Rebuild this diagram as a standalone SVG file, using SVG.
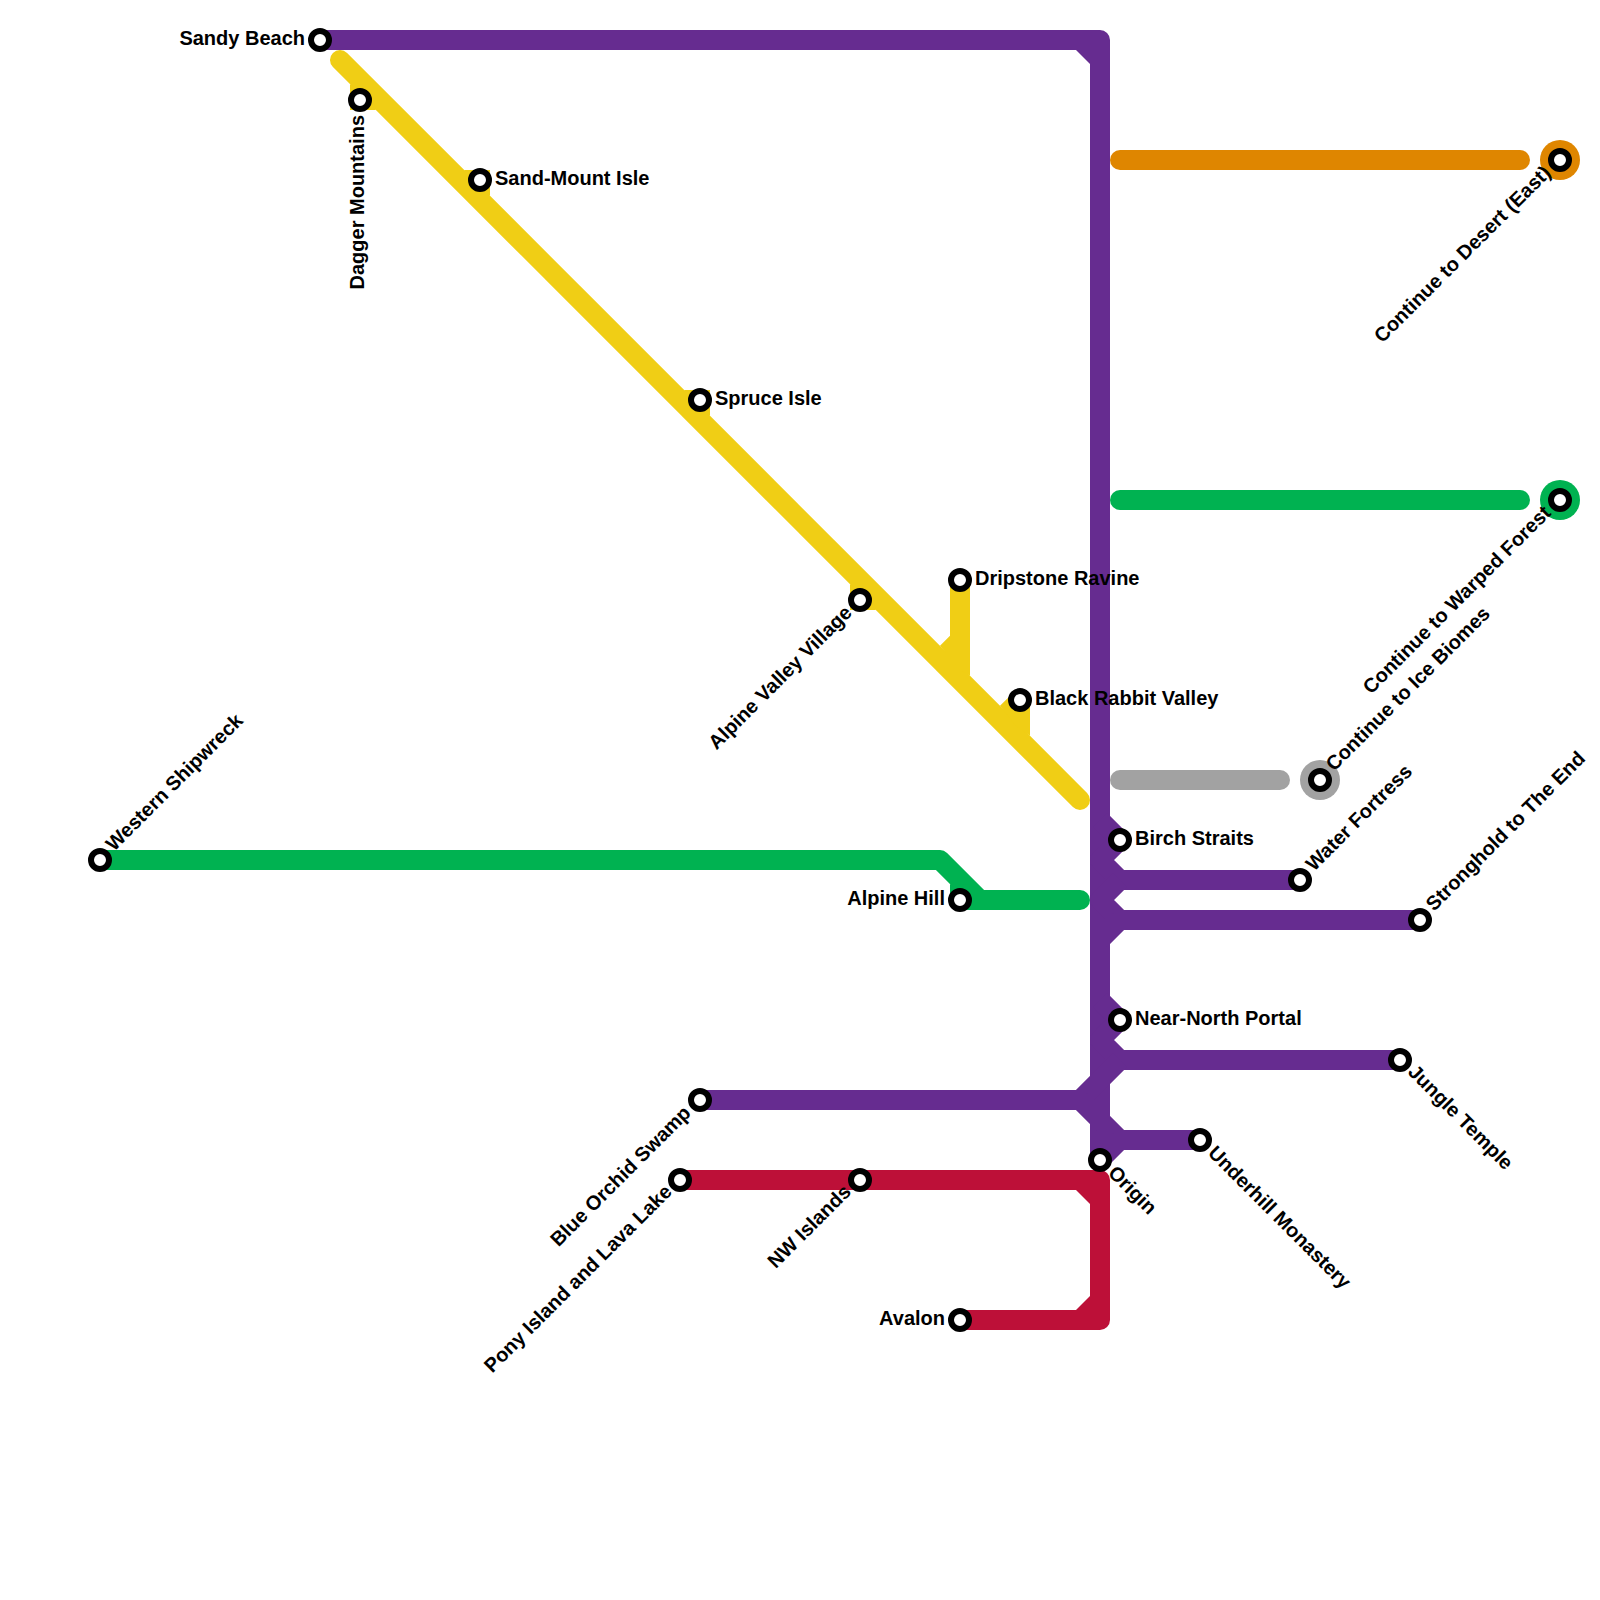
<svg xmlns="http://www.w3.org/2000/svg" width="1600" height="1600" viewBox="0 0 1600 1600">
<style>
.l{fill:none;stroke-width:20;stroke-linejoin:round}
.c{stroke-linecap:round}
.p{stroke:#662c90}.y{stroke:#f0ce15}.g{stroke:#00b251}.r{stroke:#bd1038}.o{stroke:#df8600}.a{stroke:#a2a2a2}
.fp{fill:#662c90}.fy{fill:#f0ce15}.fg{fill:#00b251}.fr{fill:#bd1038}
.s{fill:#fff;stroke:#000;stroke-width:6}
text{font-family:"Liberation Sans",Arial,sans-serif;font-weight:700;font-size:20px;fill:#000}
.e{text-anchor:end}
</style>
<rect width="1600" height="1600" fill="#fff"/>
<g id="connectors">
<path class="l c y" d="M340 60L1080 800"/>
<polygon class="fy" points="350,84.14 350,110 375.86,110 370,90"/>
<polygon class="fy" points="464.14,170 490,170 490,195.86 470,190"/>
<polygon class="fy" points="684.14,390 710,390 710,415.86 690,410"/>
<polygon class="fy" points="850,584.14 850,610 875.86,610 870,590"/>
<polygon class="fy" points="950,580 970,580 970,675.86 960,670 940,645.86 950,635.86"/>
<polygon class="fy" points="1000,705.86 1012,694 1020,700 1030,700 1030,735.86 1015,725"/>
<path class="l g" d="M100 860H940L980 900H1080"/>
<path class="l c g" d="M1060 900H1080"/>
<path class="l g" d="M960 900H1000"/>
<polygon class="fg" points="950,884.14 950,900 965,905 970,885"/>
<path class="l c o" d="M1120 160H1520"/>
<path class="l c g" d="M1120 500H1520"/>
<path class="l c a" d="M1120 780H1280"/>
<path class="l p" d="M320 40H1100V1160"/>
<polygon class="fp" points="1076,50 1090,50 1090,64"/>
<path class="l p" d="M1100 820L1120 840L1100 860L1120 880H1300"/>
<path class="l p" d="M1120 880L1100 900L1120 920H1420"/>
<path class="l p" d="M1120 920L1100 940"/>
<path class="l p" d="M1100 1000L1120 1020L1100 1040L1120 1060H1400"/>
<path class="l p" d="M1120 1060L1100 1080L1080 1100H700"/>
<path class="l p" d="M1080 1100L1100 1120L1120 1140H1200"/>
<path class="l p" d="M1120 1140L1100 1160"/>
<path class="l r" d="M680 1180H1100V1320H960"/>
<polygon class="fr" points="1076,1190 1090,1190 1090,1204"/>
<polygon class="fr" points="1076,1310 1090,1296 1090,1310"/>
</g>
<g id="sandy-beach"><circle class="s" cx="320" cy="40" r="9"/><text class="e" x="305" y="45">Sandy Beach</text></g>
<g id="dagger-mountains"><circle class="s" cx="360" cy="100" r="9"/><text class="e" transform="translate(364 115) rotate(-90)">Dagger Mountains</text></g>
<g id="sand-mount-isle"><circle class="s" cx="480" cy="180" r="9"/><text x="495" y="185">Sand-Mount Isle</text></g>
<g id="spruce-isle"><circle class="s" cx="700" cy="400" r="9"/><text x="715" y="405">Spruce Isle</text></g>
<g id="alpine-valley-village"><circle class="s" cx="860" cy="600" r="9"/><text class="e" transform="translate(853 614) rotate(-45)">Alpine Valley Village</text></g>
<g id="dripstone-ravine"><circle class="s" cx="960" cy="580" r="9"/><text x="975" y="585">Dripstone Ravine</text></g>
<g id="black-rabbit-valley"><circle class="s" cx="1020" cy="700" r="9"/><text x="1035" y="705">Black Rabbit Valley</text></g>
<g id="western-shipwreck"><circle class="s" cx="100" cy="860" r="9"/><text transform="translate(114 852) rotate(-45)">Western Shipwreck</text></g>
<g id="alpine-hill"><circle class="s" cx="960" cy="900" r="9"/><text class="e" x="945" y="905">Alpine Hill</text></g>
<g id="birch-straits"><circle class="s" cx="1120" cy="840" r="9"/><text x="1135" y="845">Birch Straits</text></g>
<g id="near-north-portal"><circle class="s" cx="1120" cy="1020" r="9"/><text x="1135" y="1025">Near-North Portal</text></g>
<g id="water-fortress"><circle class="s" cx="1300" cy="880" r="9"/><text transform="translate(1314 872) rotate(-45)">Water Fortress</text></g>
<g id="stronghold"><circle class="s" cx="1420" cy="920" r="9"/><text transform="translate(1434 912) rotate(-45)">Stronghold to The End</text></g>
<g id="ice-biomes"><circle cx="1320" cy="780" r="20" fill="#a2a2a2"/><circle class="s" cx="1320" cy="780" r="9"/><text transform="translate(1334 772) rotate(-45)">Continue to Ice Biomes</text></g>
<g id="desert-east"><circle cx="1560" cy="160" r="20" fill="#df8600"/><circle class="s" cx="1560" cy="160" r="9"/><text class="e" transform="translate(1552 174) rotate(-45)">Continue to Desert (East)</text></g>
<g id="warped-forest"><circle cx="1560" cy="500" r="20" fill="#00b251"/><circle class="s" cx="1560" cy="500" r="9"/><text class="e" transform="translate(1552 514) rotate(-45)">Continue to Warped Forest</text></g>
<g id="jungle-temple"><circle class="s" cx="1400" cy="1060" r="9"/><text transform="translate(1407 1073) rotate(45)">Jungle Temple</text></g>
<g id="underhill-monastery"><circle class="s" cx="1200" cy="1140" r="9"/><text transform="translate(1207 1154) rotate(45)">Underhill Monastery</text></g>
<g id="origin"><circle class="s" cx="1100" cy="1160" r="9"/><text transform="translate(1107 1174) rotate(45)">Origin</text></g>
<g id="blue-orchid-swamp"><circle class="s" cx="700" cy="1100" r="9"/><text class="e" transform="translate(692 1114) rotate(-45)">Blue Orchid Swamp</text></g>
<g id="pony-island"><circle class="s" cx="680" cy="1180" r="9"/><text class="e" transform="translate(673 1193) rotate(-45)">Pony Island and Lava Lake</text></g>
<g id="nw-islands"><circle class="s" cx="860" cy="1180" r="9"/><text class="e" transform="translate(852 1193) rotate(-45)">NW Islands</text></g>
<g id="avalon"><circle class="s" cx="960" cy="1320" r="9"/><text class="e" x="945" y="1325">Avalon</text></g>
</svg>
